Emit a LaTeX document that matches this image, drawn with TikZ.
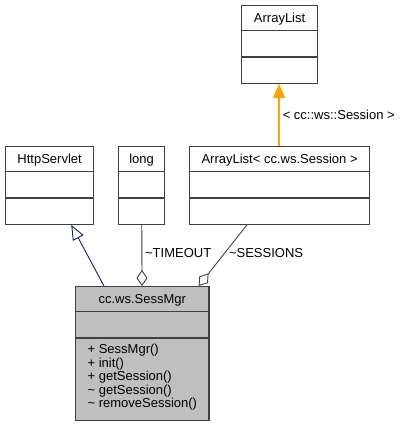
\documentclass[tikz,border=0pt]{standalone}
\usepackage{fontspec}
\setmainfont{Liberation Sans}
\usepackage{tikz}
\usetikzlibrary{shapes.multipart, arrows.meta, positioning}
\definecolor{umlgray}{RGB}{64,64,64}
\definecolor{umlfill}{RGB}{191,191,191}
\definecolor{umlnavy}{RGB}{25,25,112}
\definecolor{umlorange}{RGB}{255,165,0}
\newcommand\umlfont{\fontsize{13}{13.5}\selectfont}
\newcommand\titlestrut{\rule[-8pt]{0pt}{24pt}}

\begin{document}
\begin{tikzpicture}[x=1pt, y=1pt,
  cls/.style={rectangle split, rectangle split parts=3, draw=umlgray, fill=white, line width=1.2pt, inner xsep=4pt, inner ysep=0pt, rectangle split empty part height=25pt, rectangle split empty part depth=0pt, font=\umlfont, anchor=north west},
  mainclass/.style={cls, fill=umlfill, inner xsep=12pt, align=left, rectangle split part align={center, center, left}},
  edgelabel/.style={font=\umlfont, inner sep=3pt, text=black},
  usage/.style={-{Diamond[open, length=16pt, width=11pt]}, draw=umlgray, line width=0.9pt},
  inherit/.style={-{Triangle[open, length=15pt, width=12pt]}, draw=umlnavy, line width=0.9pt},
  realize/.style={-{Triangle[length=14pt, width=12pt]}, draw=umlorange, fill=umlorange, line width=1.5pt}
]
\useasboundingbox (0,0) rectangle (400,-427);

\node[cls, minimum width=76pt] (arraylist) at (241,-5) {\titlestrut ArrayList};
\node[cls, minimum width=88pt] (servlet) at (5,-146) {\titlestrut HttpServlet};
\node[cls, minimum width=46pt] (long) at (118,-146) {\titlestrut long};
\node[cls, minimum width=180pt] (sessions) at (189,-146) {\titlestrut ArrayList< cc.ws.Session >};
\node[mainclass, minimum width=132pt] (mgr) at (75,-286) {\titlestrut cc.ws.SessMgr
  \nodepart{three}\rule{0pt}{15pt}+ SessMgr()\\+ init()\\+ getSession()\\\textasciitilde{} getSession()\\\textasciitilde{} removeSession()\rule[-12pt]{0pt}{12pt}};

\draw[realize] ([xshift=-0.5pt]sessions.north) -- ([xshift=-0.5pt]arraylist.south);
\draw[inherit] ([xshift=29pt]mgr.north west) -- ([xshift=-23pt]servlet.south east);
\draw[usage] (long) -- (mgr);
\draw[usage] ([xshift=58pt]sessions.south west) -- ([xshift=-11pt]mgr.north east);

\path (sessions) -- (arraylist) node[midway, right, edgelabel] {< cc::ws::Session >};
\path (long) -- (mgr) node[midway, right, edgelabel, yshift=2pt] {\textasciitilde TIMEOUT};
\path ([xshift=58pt]sessions.south west) -- ([xshift=-11pt]mgr.north east) node[midway, right, edgelabel, xshift=3pt, yshift=2pt] {\textasciitilde SESSIONS};

\end{tikzpicture}
\end{document}
